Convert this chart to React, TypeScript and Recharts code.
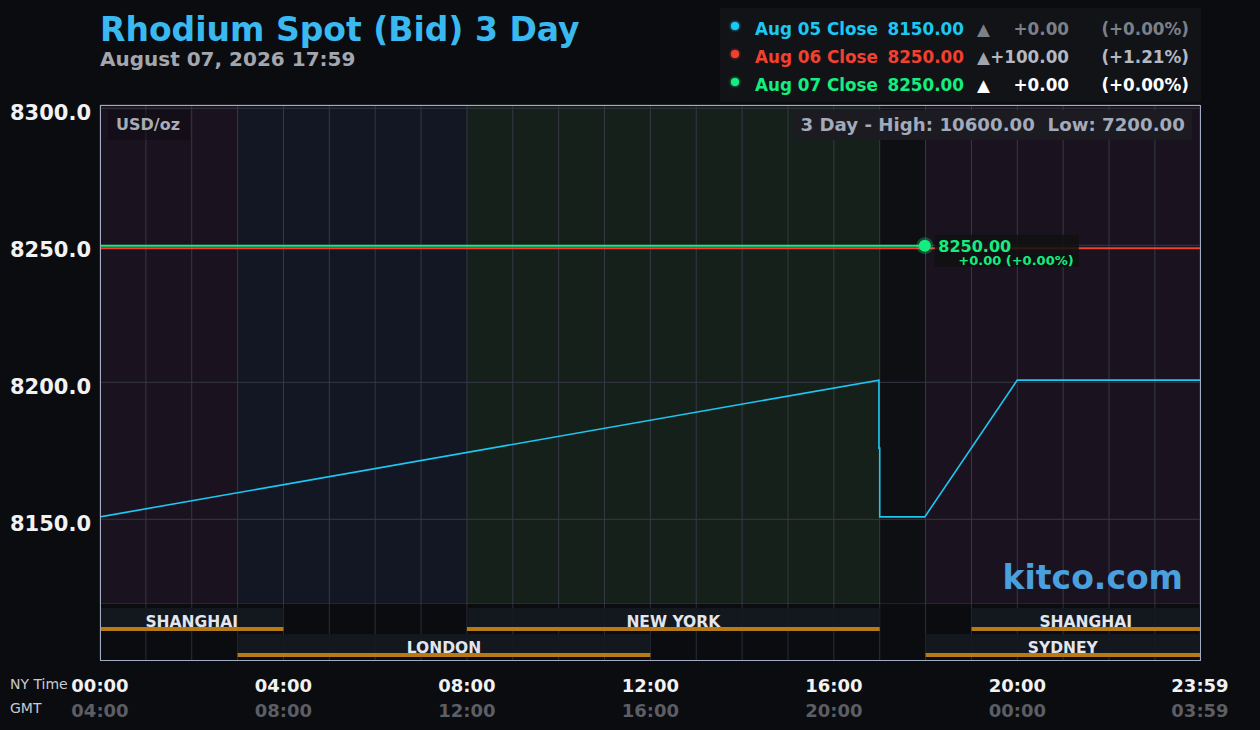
import React from "react";
import { ComposedChart, Line, XAxis, YAxis, CartesianGrid, ReferenceArea } from "recharts";

const FONT = '"DejaVu Sans", sans-serif';

// time axis, minutes after NY midnight
const hourTicks = [0, 60, 120, 180, 240, 300, 360, 420, 480, 540, 600, 660, 720, 780, 840, 900, 960, 1020, 1080, 1140, 1200, 1260, 1320, 1380, 1439];
const labelTicks = [0, 240, 480, 720, 960, 1200, 1439];
const nyTimeLabels = ["00:00", "04:00", "08:00", "12:00", "16:00", "20:00", "23:59"];
const gmtLabels = ["04:00", "08:00", "12:00", "16:00", "20:00", "00:00", "03:59"];

const priceTicks = [8150, 8200, 8250, 8300];

// Aug 05 (blue)
const aug05Times = [0, 1019, 1019, 1020, 1020, 1079, 1200, 1439];
const aug05Prices = [8150.9, 8200.8, 8176.0, 8176.0, 8150.9, 8150.9, 8200.8, 8200.8];
// Aug 06 (red)
const aug06Times = [0, 1439];
const aug06Prices = [8248.9, 8248.9];
// Aug 07 (green)
const aug07Times = [0, 1079];
const aug07Prices = [8249.8, 8249.8];

// legend
const legendDates = ["Aug 05", "Aug 06", "Aug 07"];
const legendCloses = ["8150.00", "8250.00", "8250.00"];
const legendChanges = ["+0.00", "+100.00", "+0.00"];
const legendPercents = ["(+0.00%)", "(+1.21%)", "(+0.00%)"];

// market background bands
const bandStarts = [0, 180, 480, 1020, 1080];
const bandEnds = [180, 480, 1020, 1080, 1439];
const bandKinds = ["asia", "london", "newyork", "closed", "asia"];

// trading sessions (row 1 = upper, row 0 = lower)
const sessionNames = ["SHANGHAI", "NEW YORK", "SHANGHAI", "LONDON", "SYDNEY"];
const sessionStarts = [0, 480, 1140, 180, 1080];
const sessionEnds = [240, 1020, 1439, 720, 1439];
const sessionRows = [1, 1, 1, 0, 0];

const BAND_FILL: Record<string, string> = {
  asia: "#1a131f",
  london: "#121723",
  newyork: "#16201a",
  closed: "#0d0f12",
};
const SERIES_COLORS = ["#1cc8f2", "#f2412f", "#14ee80"];
const CHANGE_COLORS = ["#7c8088", "#b4b8c0", "#ffffff"];
const TRIANGLE_COLORS = ["#7c8088", "#a0a4ac", "#ffffff"];

const toPoints = (times: number[], prices: number[]) => times.map((t, i) => ({ t, price: prices[i] }));
const aug05 = toPoints(aug05Times, aug05Prices);
const aug06 = toPoints(aug06Times, aug06Prices);
const aug07 = toPoints(aug07Times, aug07Prices);
const sessionPoints = sessionStarts.map((t, i) => ({ t, row: sessionRows[i] })).sort((a, b) => a.t - b.t);

function PriceTick({ x, y, payload }: any) {
  return (
    <text x={x} y={y + 12} textAnchor="end" fill="#f2f2f2" fontSize={21} fontWeight="bold" fontFamily={FONT}>
      {Number(payload.value).toFixed(1)}
    </text>
  );
}

function TimeTick({ x, y, payload }: any) {
  const i = labelTicks.indexOf(payload.value);
  if (i < 0) return <g />;
  return (
    <g>
      <text x={x} y={y + 32} textAnchor="middle" fill="#f2f2f2" fontSize={18} fontWeight="bold" fontFamily={FONT}>
        {nyTimeLabels[i]}
      </text>
      <text x={x} y={y + 57} textAnchor="middle" fill="#5c5e64" fontSize={18} fontWeight="bold" fontFamily={FONT}>
        {gmtLabels[i]}
      </text>
    </g>
  );
}

function EndMarker(props: any) {
  const { cx, cy, index } = props;
  if (index !== aug07.length - 1) return <g key={`d-${index}`} />;
  const c = SERIES_COLORS[2];
  return (
    <g key={`d-${index}`}>
      <rect x={cx + 10} y={cy - 11} width={144} height={32} fill="rgba(16,16,18,0.85)" />
      <circle cx={cx} cy={cy} r={8.5} fill={c} fillOpacity={0.28} />
      <circle cx={cx} cy={cy} r={6} fill={c} />
      <text x={cx + 13.5} y={cy + 6} fill={c} fontSize={16} fontWeight="bold" fontFamily={FONT}>
        {legendCloses[2]}
      </text>
      <text x={cx + 33.5} y={cy + 19.5} fill={c} fontSize={13} fontWeight="bold" fontFamily={FONT}>
        {`${legendChanges[2]} ${legendPercents[2]}`}
      </text>
    </g>
  );
}

const ROW_H = 0.885;
const STRIP_H = 0.154;

export default function App() {
  return (
    <div
      style={{
        position: "absolute",
        left: 0,
        top: 0,
        width: 1260,
        height: 730,
        background: "#0b0c10",
        overflow: "hidden",
        fontFamily: FONT,
      }}
    >
      {/* price panel */}
      <div style={{ position: "absolute", left: 0, top: 0 }}>
        <ComposedChart width={1260} height={604} margin={{ top: 105, right: 60, bottom: 0, left: 0 }}>
          {bandStarts.map((s, i) => (
            <ReferenceArea
              key={`band-${i}`}
              x1={s}
              x2={bandEnds[i]}
              fill={BAND_FILL[bandKinds[i]]}
              fillOpacity={1}
              stroke="none"
              zIndex={-150}
            />
          ))}
          <CartesianGrid stroke="#363845" strokeWidth={1} />
          <XAxis type="number" dataKey="t" domain={[0, 1439]} ticks={hourTicks} hide allowDataOverflow />
          <YAxis
            type="number"
            domain={[8119.1, 8301.2]}
            ticks={priceTicks}
            width={100}
            axisLine={false}
            tickLine={false}
            tickSize={0}
            tickMargin={9}
            interval={0}
            allowDataOverflow
            tick={<PriceTick />}
          />
          <Line data={aug05} dataKey="price" type="linear" stroke={SERIES_COLORS[0]} strokeWidth={1.6} dot={false} isAnimationActive={false} />
          <Line data={aug06} dataKey="price" type="linear" stroke={SERIES_COLORS[1]} strokeWidth={2} dot={false} isAnimationActive={false} />
          <Line
            data={aug07}
            dataKey="price"
            type="linear"
            stroke={SERIES_COLORS[2]}
            strokeWidth={2}
            dot={(p: any) => <EndMarker {...p} />}
            isAnimationActive={false}
          />
        </ComposedChart>
      </div>

      {/* session panel + time axis */}
      <div style={{ position: "absolute", left: 0, top: 604 }}>
        <ComposedChart
          width={1260}
          height={126}
          data={sessionPoints}
          margin={{ top: 0, right: 60, bottom: 0, left: 100 }}
        >
          <CartesianGrid stroke="#2c2e38" horizontal={false} />
          <XAxis
            type="number"
            dataKey="t"
            domain={[0, 1439]}
            ticks={hourTicks}
            interval={0}
            height={70}
            axisLine={false}
            tickLine={false}
            tickSize={0}
            tickMargin={0}
            allowDataOverflow
            tick={<TimeTick />}
          />
          <YAxis type="number" dataKey="row" domain={[-0.115, 2.04]} hide allowDataOverflow />
          {sessionNames.map((name, i) => (
            <ReferenceArea
              key={`sess-${i}`}
              x1={sessionStarts[i]}
              x2={sessionEnds[i]}
              y1={sessionRows[i]}
              y2={sessionRows[i] + ROW_H}
              fill="#141820"
              fillOpacity={0.9}
              stroke="none"
              label={{
                value: name,
                position: "insideBottom",
                offset: 4,
                fill: "#e2e6ee",
                fontSize: 15.5,
                fontWeight: "bold",
                fontFamily: FONT,
              }}
            />
          ))}
          {sessionNames.map((name, i) => (
            <ReferenceArea
              key={`strip-${i}`}
              x1={sessionStarts[i]}
              x2={sessionEnds[i]}
              y1={sessionRows[i]}
              y2={sessionRows[i] + STRIP_H}
              fill="#b87a14"
              fillOpacity={1}
              stroke="none"
            />
          ))}
          <Line dataKey="row" stroke="none" strokeWidth={0} dot={false} activeDot={false} isAnimationActive={false} />
        </ComposedChart>
      </div>

      {/* plot border */}
      <div
        style={{
          position: "absolute",
          left: 100,
          top: 105,
          width: 1101,
          height: 556,
          boxSizing: "border-box",
          border: "1px solid #a3abc3",
          pointerEvents: "none",
        }}
      />

      {/* title */}
      <div style={{ position: "absolute", left: 100, top: 11, fontSize: 33, lineHeight: "38px", fontWeight: "bold", color: "#3ab9f0", whiteSpace: "nowrap" }}>
        Rhodium Spot (Bid) 3 Day
      </div>
      <div style={{ position: "absolute", left: 100, top: 48.3, fontSize: 20, lineHeight: "23px", fontWeight: "bold", color: "#a2a6ae", whiteSpace: "nowrap" }}>
        August 07, 2026 17:59
      </div>

      {/* legend */}
      <div style={{ position: "absolute", left: 720, top: 8, width: 481, height: 94, background: "#111317" }} />
      {legendDates.map((d, i) => {
        const top = 19 + i * 28;
        const base = { position: "absolute" as const, top, fontSize: 16.8, lineHeight: "20px", fontWeight: "bold" as const, whiteSpace: "pre" as const };
        return (
          <React.Fragment key={d}>
            <div
              style={{
                position: "absolute",
                left: 731,
                top: 22 + i * 28,
                width: 8,
                height: 8,
                borderRadius: 4,
                background: SERIES_COLORS[i],
                boxShadow: `0 0 3px ${SERIES_COLORS[i]}`,
              }}
            />
            <div style={{ ...base, left: 755, color: SERIES_COLORS[i] }}>{`${d} Close`}</div>
            <div style={{ ...base, left: 887.5, color: SERIES_COLORS[i] }}>{legendCloses[i]}</div>
            <div style={{ ...base, left: 977, color: TRIANGLE_COLORS[i] }}>▲</div>
            <div style={{ ...base, left: 969, width: 100, textAlign: "right", color: CHANGE_COLORS[i] }}>{legendChanges[i]}</div>
            <div style={{ ...base, left: 1079, width: 110, textAlign: "right", color: CHANGE_COLORS[i] }}>{legendPercents[i]}</div>
          </React.Fragment>
        );
      })}

      {/* in-plot labels */}
      <div
        style={{
          position: "absolute",
          left: 108,
          top: 110,
          width: 82,
          height: 30,
          background: "rgba(8,6,12,0.35)",
          color: "#a8acb4",
          fontSize: 16,
          fontWeight: "bold",
          lineHeight: "30px",
          paddingLeft: 8,
          boxSizing: "border-box",
          whiteSpace: "nowrap",
        }}
      >
        USD/oz
      </div>
      <div
        style={{
          position: "absolute",
          left: 794,
          top: 110,
          width: 398,
          height: 30,
          background: "#1b1b21",
          color: "#a2aabb",
          fontSize: 18.2,
          fontWeight: "bold",
          lineHeight: "30px",
          paddingLeft: 6.5,
          boxSizing: "border-box",
          whiteSpace: "pre",
        }}
      >
        {"3 Day - High: 10600.00  Low: 7200.00"}
      </div>
      <div
        style={{
          position: "absolute",
          left: 883,
          top: 558,
          width: 300,
          textAlign: "right",
          color: "#4aa0de",
          fontSize: 33,
          fontWeight: "bold",
          lineHeight: "40px",
          whiteSpace: "nowrap",
        }}
      >
        kitco.com
      </div>

      {/* axis captions */}
      <div style={{ position: "absolute", left: 10, top: 675.7, fontSize: 14, lineHeight: "17px", color: "#c6cad2" }}>NY Time</div>
      <div style={{ position: "absolute", left: 10, top: 699.7, fontSize: 14, lineHeight: "17px", color: "#c6cad2" }}>GMT</div>
    </div>
  );
}
